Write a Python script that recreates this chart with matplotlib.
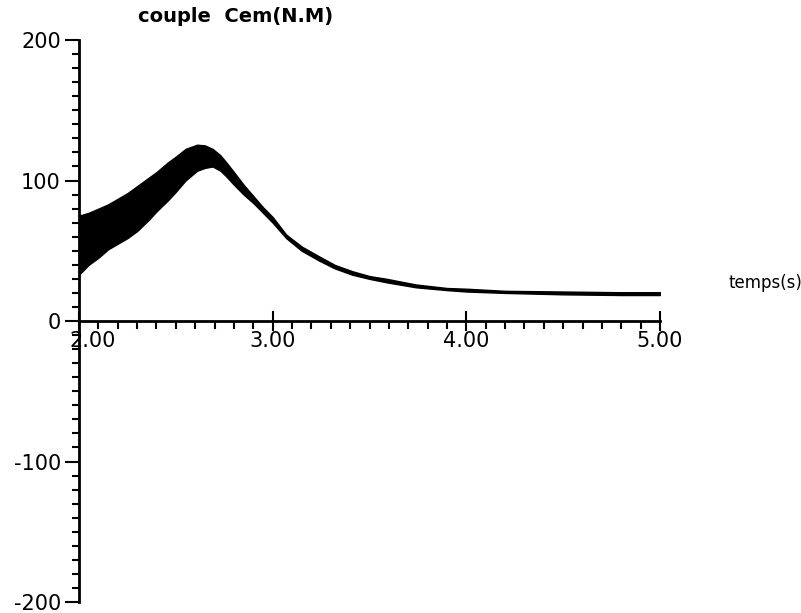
import numpy as np
import matplotlib
matplotlib.use("Agg")
import matplotlib.pyplot as plt
import matplotlib.transforms as mtransforms
from matplotlib.ticker import MultipleLocator, FixedFormatter, FixedLocator

# enveloppe du couple (ondulations au debut)
temps = [2.00, 2.05, 2.10, 2.15, 2.20, 2.25, 2.30, 2.36, 2.40, 2.46, 2.50, 2.55,
         2.61, 2.65, 2.69, 2.73, 2.76, 2.80, 2.85, 2.90, 2.95, 3.00, 3.07, 3.15,
         3.24, 3.32, 3.41, 3.50, 3.59, 3.74, 3.90, 4.00, 4.20, 4.50, 4.80, 5.00]
cem_haut = [75, 77, 80, 83, 87, 91, 96, 102, 106, 113, 117, 122.5,
            125.5, 125, 122.5, 118, 113, 106, 97, 89, 81, 74, 61.5, 53,
            46, 40, 35.5, 32, 30, 26, 23.5, 23, 21.5, 21, 20.5, 20.5]
cem_bas = [33, 40, 45, 51, 55, 59, 64, 72, 78, 86, 92, 100,
           107, 109, 110, 107, 103, 97, 90, 84, 77, 70, 59, 50,
           43, 37.5, 33, 30, 27.5, 24, 22, 21, 20, 19, 18.5, 18.5]

xticks = [2.0, 3.0, 4.0, 5.0]
xlabels = ["2.00", "3.00", "4.00", "5.00"]
yticks = [-200, -100, 0, 100, 200]
ylabels = ["-200", "-100", "0", "100", "200"]

plt.rcParams['font.family'] = ['DejaVu Sans']
plt.rcParams['axes.unicode_minus'] = False

fig = plt.figure(figsize=(8.01, 6.13), dpi=100)
ax = fig.add_axes([0.0986, 0.0179, 0.7254, 0.9168])

ax.fill_between(temps, cem_bas, cem_haut, facecolor='black', lw=1.0, edgecolor='black')

ax.set_xlim(2.0, 5.0)
ax.set_ylim(-200, 200)

ax.spines['top'].set_visible(False)
ax.spines['right'].set_visible(False)
ax.spines['bottom'].set_position(('data', 0))
ax.spines['left'].set_linewidth(2)
ax.spines['bottom'].set_linewidth(2)

ax.xaxis.set_major_locator(FixedLocator(xticks))
ax.xaxis.set_major_formatter(FixedFormatter(xlabels))
ax.xaxis.set_minor_locator(MultipleLocator(0.1))
ax.yaxis.set_major_locator(FixedLocator(yticks))
ax.yaxis.set_major_formatter(FixedFormatter(ylabels))
ax.yaxis.set_minor_locator(MultipleLocator(10))

ax.tick_params(axis='x', which='major', direction='inout', length=14, width=1.5,
               labelsize=15, pad=0)
ax.tick_params(axis='x', which='minor', direction='out', length=6, width=1.5)
ax.tick_params(axis='y', which='major', direction='out', length=10, width=1.5,
               labelsize=15, pad=3)
ax.tick_params(axis='y', which='minor', direction='out', length=5, width=1.5)

# le libelle 2.00 est decale a droite de l'axe vertical sur l'original
decal = mtransforms.ScaledTranslation(14 / 100, 0, fig.dpi_scale_trans)
premier = ax.get_xticklabels()[0]
premier.set_transform(premier.get_transform() + decal)

ax.text(0.1015, 1.042, "couple  Cem(N.M)", transform=ax.transAxes, fontsize=14,
        fontweight='bold', ha='left', va='center')
ax.text(1.117, 0.567, "temps(s)", transform=ax.transAxes, fontsize=12,
        ha='left', va='center')

fig.savefig("out.png", dpi=100)
